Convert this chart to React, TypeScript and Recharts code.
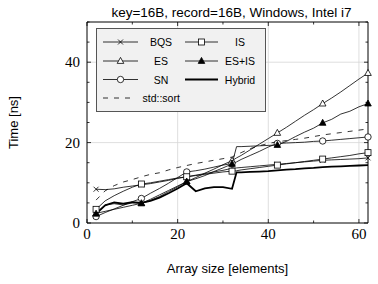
import { LineChart, Line, XAxis, YAxis, ReferenceLine, Legend } from 'recharts'

// array sizes (markers every 10 points, starting at 2)
const xs = [2, 4, 6, 8, 10, 12, 14, 16, 18, 20, 22, 24, 26, 28, 30, 32, 33, 34, 36, 38, 40, 42, 44, 46, 48, 50, 52, 54, 56, 58, 60, 62]

const bqs = [8.4, 8.3, 8.5, 8.9, 9.2, 9.5, 9.8, 10.2, 10.6, 11.1, 11.5, 11.9, 12.3, 12.7, 13.1, 13.6, 13.7, 13.8, 14.0, 14.2, 14.4, 14.6, 14.8, 15.0, 15.2, 15.4, 15.6, 15.7, 15.8, 15.9, 16.0, 16.2]
const is = [3.4, 5.5, 6.8, 7.9, 8.9, 9.7, 10.0, 10.4, 10.8, 11.2, 11.5, 11.8, 12.1, 12.4, 12.7, 12.9, 13.0, 13.2, 13.5, 13.8, 14.1, 14.4, 14.7, 15.0, 15.3, 15.6, 15.9, 16.2, 16.5, 16.8, 17.2, 17.5]
const es = [2.4, 2.9, 3.4, 3.9, 4.4, 4.9, 5.9, 7.0, 8.1, 9.2, 10.3, 11.3, 12.4, 13.4, 14.5, 15.5, 16.2, 16.8, 18.2, 19.6, 21.0, 22.4, 23.8, 25.3, 26.8, 28.2, 29.7, 31.1, 32.6, 34.2, 35.8, 37.3]
const esIs = [2.3, 4.5, 4.8, 4.5, 5.0, 4.9, 5.6, 6.6, 7.8, 9.0, 10.3, 11.0, 11.8, 12.8, 13.7, 14.7, 19.0, 19.0, 19.1, 19.2, 19.3, 19.4, 20.3, 21.5, 22.6, 23.6, 24.9, 25.8, 27.1, 27.8, 28.9, 29.7]
const sn = [1.6, 2.6, 3.5, 4.4, 5.3, 6.1, 7.4, 8.6, 9.9, 11.3, 12.7, 13.0, 13.4, 13.9, 14.4, 14.8, 15.2, 15.8, 16.8, 17.8, 18.9, 19.8, 19.9, 20.0, 20.1, 20.3, 20.4, 20.6, 20.8, 21.0, 21.2, 21.4]
const hybrid = [2.3, 4.4, 5.1, 4.8, 5.2, 5.0, 5.5, 6.3, 7.4, 8.6, 9.9, 7.9, 8.6, 8.9, 8.9, 8.5, 12.6, 12.6, 12.7, 12.8, 12.9, 13.1, 13.3, 13.4, 13.6, 13.7, 13.9, 14.0, 14.1, 14.2, 14.3, 14.4]
const stdSort = [5.7, 8.0, 9.3, 10.2, 10.8, 11.5, 12.1, 12.5, 13.2, 13.8, 14.3, 14.8, 15.2, 15.6, 16.0, 16.4, 17.0, 17.5, 18.5, 19.2, 19.8, 20.2, 20.5, 20.8, 21.1, 21.5, 21.9, 22.2, 22.5, 22.8, 23.1, 23.4]

const xTicks = [0, 10, 20, 30, 40, 50, 60]
const xMajor = [0, 20, 40, 60]
const yTicks = [0, 5, 10, 15, 20, 25, 30, 35, 40, 45, 50]
const yMajor = [0, 20, 40]

type Shape = 'cross' | 'square' | 'triangle' | 'filledTriangle' | 'circle' | 'none'

const series: Array<{ key: string; name: string; values: number[]; shape: Shape; thick?: boolean; dashed?: boolean }> = [
  { key: 'bqs', name: 'BQS', values: bqs, shape: 'cross' },
  { key: 'es', name: 'ES', values: es, shape: 'triangle' },
  { key: 'sn', name: 'SN', values: sn, shape: 'circle' },
  { key: 'stdSort', name: 'std::sort', values: stdSort, shape: 'none', dashed: true },
  { key: 'is', name: 'IS', values: is, shape: 'square' },
  { key: 'esIs', name: 'ES+IS', values: esIs, shape: 'filledTriangle' },
  { key: 'hybrid', name: 'Hybrid', values: hybrid, shape: 'none', thick: true },
]

const rows = xs.map((x, i) => {
  const row: Record<string, number> = { x }
  series.forEach((s) => { row[s.key] = s.values[i] })
  return row
})

const SANS = '"Liberation Sans", Arial, sans-serif'
const SERIF = '"Liberation Serif", "DejaVu Serif", serif'
const DASH = '5 6'

function Marker({ shape, cx, cy }: { shape: Shape; cx: number; cy: number }) {
  const sw = 0.8
  switch (shape) {
    case 'cross':
      return (
        <g stroke="#000" strokeWidth={sw}>
          <line x1={cx - 2.5} y1={cy - 2.5} x2={cx + 2.5} y2={cy + 2.5} />
          <line x1={cx - 2.5} y1={cy + 2.5} x2={cx + 2.5} y2={cy - 2.5} />
        </g>
      )
    case 'square':
      return <rect x={cx - 3} y={cy - 3} width={6} height={6} fill="#fff" stroke="#000" strokeWidth={sw} />
    case 'circle':
      return <circle cx={cx} cy={cy} r={3.2} fill="#fff" stroke="#000" strokeWidth={sw} />
    case 'triangle':
    case 'filledTriangle':
      return (
        <polygon
          points={`${cx},${cy - 3.6} ${cx - 3.3},${cy + 2.4} ${cx + 3.3},${cy + 2.4}`}
          fill={shape === 'filledTriangle' ? '#000' : '#fff'}
          stroke="#000"
          strokeWidth={sw}
        />
      )
    default:
      return null
  }
}

const markerDot = (shape: Shape) => (props: any) => {
  const { cx, cy, payload, index } = props
  if (shape === 'none' || cx == null || (payload.x - 2) % 10 !== 0) return <g key={index} />
  return <g key={index}><Marker shape={shape} cx={cx} cy={cy} /></g>
}

const BottomTick = ({ x, y, payload }: any) => {
  const major = xMajor.includes(payload.value)
  return (
    <g>
      <line x1={x} y1={y} x2={x} y2={y - (major ? 4 : 2.5)} stroke="#000" strokeWidth={0.8} />
      {major && (
        <text x={x} y={y + 15.5} textAnchor="middle" fontFamily={SERIF} fontSize={15} fill="#000">
          {payload.value}
        </text>
      )}
    </g>
  )
}

const TopTick = ({ x, y, payload }: any) => {
  const major = xMajor.includes(payload.value)
  return <line x1={x} y1={y} x2={x} y2={y + (major ? 4 : 2.5)} stroke="#000" strokeWidth={0.8} />
}

const LeftTick = ({ x, y, payload }: any) => {
  const major = yMajor.includes(payload.value)
  return (
    <g>
      <line x1={x} y1={y} x2={x + (major ? 4 : 2.5)} y2={y} stroke="#000" strokeWidth={0.8} />
      {major && (
        <text x={x - 7} y={y + 5} textAnchor="end" fontFamily={SERIF} fontSize={15} fill="#000">
          {payload.value}
        </text>
      )}
    </g>
  )
}

const RightTick = ({ x, y, payload }: any) => {
  const major = yMajor.includes(payload.value)
  return <line x1={x} y1={y} x2={x - (major ? 4 : 2.5)} y2={y} stroke="#000" strokeWidth={0.8} />
}

const legendRows = [14, 33, 51.5, 70]
const legendEntries: Array<{ name: string; row: number; col: number }> = [
  { name: 'BQS', row: 0, col: 0 },
  { name: 'IS', row: 0, col: 1 },
  { name: 'ES', row: 1, col: 0 },
  { name: 'ES+IS', row: 1, col: 1 },
  { name: 'SN', row: 2, col: 0 },
  { name: 'Hybrid', row: 2, col: 1 },
]

function LegendBox() {
  const cols = [
    { x1: 7, x2: 42, mid: 24.5, text: 65 },
    { x1: 89, x2: 122, mid: 105.5, text: 144 },
  ]
  return (
    <svg width={170} height={84} style={{ display: 'block' }}>
      <rect x={0.5} y={0.5} width={169} height={83} fill="#f1f1f1" stroke="#555" strokeWidth={1} />
      {legendEntries.map((e) => {
        const s = series.find((d) => d.name === e.name)!
        const c = cols[e.col]
        const y = legendRows[e.row]
        return (
          <g key={e.name}>
            <line x1={c.x1} y1={y} x2={c.x2} y2={y} stroke="#000" strokeWidth={s.thick ? 1.8 : 0.8} />
            <Marker shape={s.shape} cx={c.mid} cy={y} />
            <text x={c.text} y={y + 4} textAnchor="middle" fontFamily={SANS} fontSize={10.5} fill="#000">
              {e.name}
            </text>
          </g>
        )
      })}
      <line x1={7} y1={legendRows[3]} x2={36} y2={legendRows[3]} stroke="#000" strokeWidth={0.8} strokeDasharray={DASH} />
      <text x={46.5} y={legendRows[3] + 4} fontFamily={SANS} fontSize={10.5} fill="#000">
        std::sort
      </text>
    </svg>
  )
}

export default function App() {
  return (
    <div style={{ position: 'absolute', left: 0, top: 0, width: 378, height: 284, background: '#fff' }}>
      <LineChart width={378} height={284} data={rows} margin={{ top: 21, right: 9, bottom: 0, left: 0 }}>
        <XAxis
          dataKey="x"
          type="number"
          domain={[0, 62]}
          ticks={xTicks}
          interval={0}
          height={61}
          tickSize={0}
          tickMargin={0}
          tickLine={false}
          tick={<BottomTick />}
          axisLine={{ stroke: '#000', strokeWidth: 1 }}
          label={{
            content: ({ viewBox }: any) => (
              <text x={viewBox.x + viewBox.width / 2} y={viewBox.y + 50} textAnchor="middle" fontFamily={SANS} fontSize={13} fill="#000">
                Array size [elements]
              </text>
            ),
          }}
        />
        <XAxis
          xAxisId="top"
          dataKey="x"
          type="number"
          orientation="top"
          domain={[0, 62]}
          ticks={xTicks}
          interval={0}
          height={1}
          tickSize={0}
          tickMargin={0}
          tickLine={false}
          tick={<TopTick />}
          axisLine={{ stroke: '#000', strokeWidth: 1 }}
          label={{
            content: ({ viewBox }: any) => (
              <text x={viewBox.x + viewBox.width / 2 + 4} y={viewBox.y - 4} textAnchor="middle" fontFamily={SANS} fontSize={13.5} fill="#000">
                key=16B, record=16B, Windows, Intel i7
              </text>
            ),
          }}
        />
        <YAxis
          type="number"
          domain={[0, 50]}
          ticks={yTicks}
          interval={0}
          width={87}
          tickSize={0}
          tickMargin={0}
          tickLine={false}
          tick={<LeftTick />}
          axisLine={{ stroke: '#000', strokeWidth: 1 }}
          label={{
            content: ({ viewBox }: any) => (
              <text
                x={15}
                y={viewBox.y + viewBox.height / 2}
                transform={`rotate(-90 15 ${viewBox.y + viewBox.height / 2})`}
                textAnchor="middle"
                dominantBaseline="middle"
                fontFamily={SANS}
                fontSize={13}
                fill="#000"
              >
                Time [ns]
              </text>
            ),
          }}
        />
        <YAxis
          yAxisId="right"
          orientation="right"
          type="number"
          domain={[0, 50]}
          ticks={yTicks}
          interval={0}
          width={1}
          tickSize={0}
          tickMargin={0}
          tickLine={false}
          tick={<RightTick />}
          axisLine={{ stroke: '#000', strokeWidth: 1 }}
        />
        {[20, 40, 60].map((v) => (
          <ReferenceLine key={`gx${v}`} x={v} stroke="#d6d6d6" strokeWidth={0.8} />
        ))}
        {[20, 40].map((v) => (
          <ReferenceLine key={`gy${v}`} y={v} stroke="#d6d6d6" strokeWidth={0.8} />
        ))}
        {/* invisible series so the mirrored top/right axes get drawn */}
        <Line
          xAxisId="top"
          yAxisId="right"
          dataKey="hybrid"
          stroke="none"
          dot={false}
          activeDot={false}
          legendType="none"
          isAnimationActive={false}
        />
        {series.map((s) => (
          <Line
            key={s.key}
            dataKey={s.key}
            name={s.name}
            type="linear"
            stroke="#000"
            strokeWidth={s.thick ? 1.8 : 0.8}
            strokeDasharray={s.dashed ? DASH : undefined}
            dot={markerDot(s.shape)}
            activeDot={false}
            isAnimationActive={false}
          />
        ))}
        <Legend
          layout="vertical"
          align="center"
          verticalAlign="middle"
          width={170}
          height={84}
          wrapperStyle={{ left: 96, top: 28, width: 170, height: 84 }}
          content={() => <LegendBox />}
        />
      </LineChart>
    </div>
  )
}
